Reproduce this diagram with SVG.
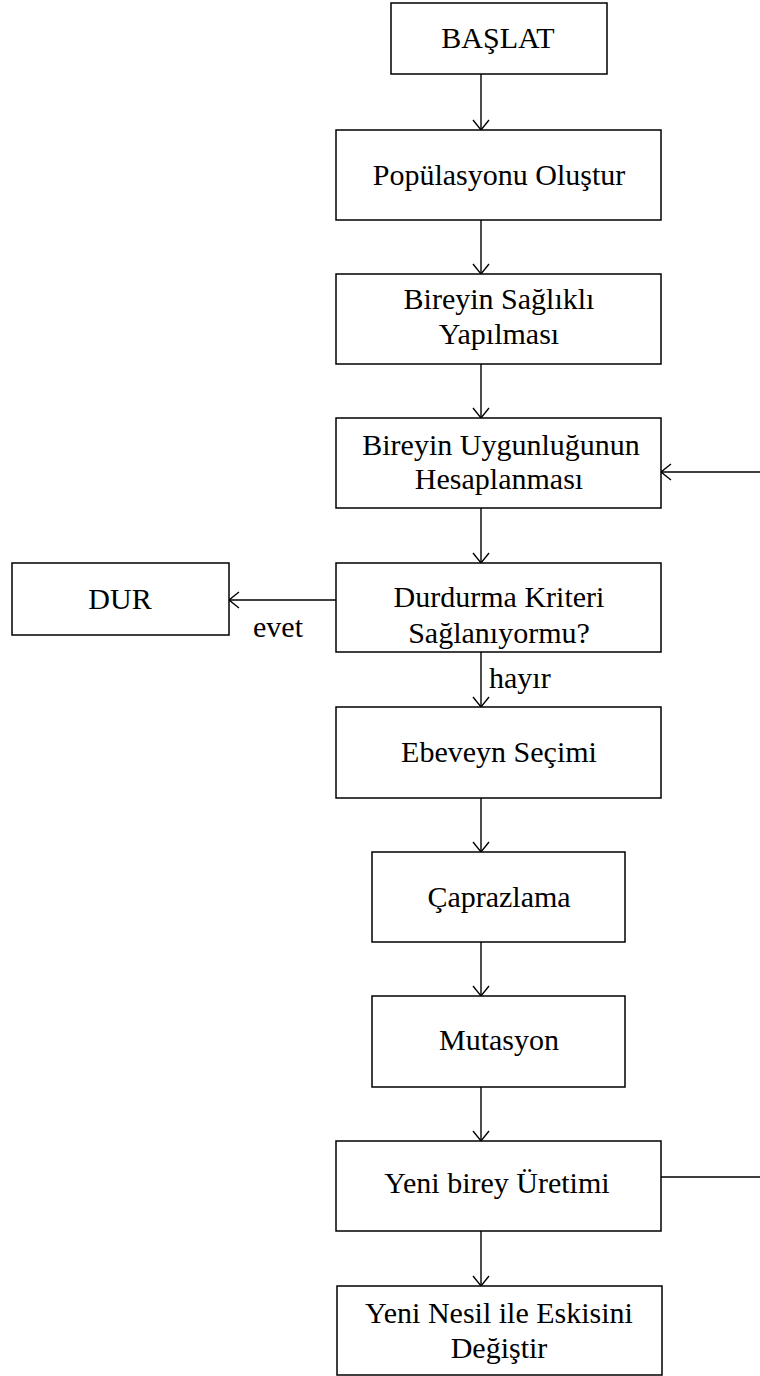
<svg xmlns="http://www.w3.org/2000/svg" width="760" height="1376" viewBox="0 0 760 1376">
<defs>
<style>
.box{fill:#fff;stroke:#000;stroke-width:1.5}
.t{font-family:"Liberation Serif","Times New Roman",serif;font-size:30px;fill:#000;text-anchor:middle}
.l{font-family:"Liberation Serif","Times New Roman",serif;font-size:30px;fill:#000}
.c{fill:none;stroke:#000;stroke-width:1.4}
</style>
<marker id="ah" markerWidth="14" markerHeight="20" refX="11" refY="9" orient="auto" markerUnits="userSpaceOnUse">
<path d="M1,1 L11,9 L1,17" fill="none" stroke="#000" stroke-width="1.4"/>
</marker>
</defs>
<rect width="760" height="1376" fill="#fff"/>
<g id="connectors">
<line class="c" x1="481" y1="74" x2="481" y2="130" marker-end="url(#ah)"/>
<line class="c" x1="481" y1="220" x2="481" y2="274" marker-end="url(#ah)"/>
<line class="c" x1="481" y1="364" x2="481" y2="418" marker-end="url(#ah)"/>
<line class="c" x1="481" y1="508" x2="481" y2="563" marker-end="url(#ah)"/>
<line class="c" x1="336" y1="600" x2="229" y2="600" marker-end="url(#ah)"/>
<line class="c" x1="481" y1="652" x2="481" y2="707" marker-end="url(#ah)"/>
<line class="c" x1="481" y1="798" x2="481" y2="852" marker-end="url(#ah)"/>
<line class="c" x1="481" y1="942" x2="481" y2="996" marker-end="url(#ah)"/>
<line class="c" x1="481" y1="1087" x2="481" y2="1141" marker-end="url(#ah)"/>
<line class="c" x1="481" y1="1231" x2="481" y2="1286" marker-end="url(#ah)"/>
<path class="c" d="M661,1177 H764 V472 H661" marker-end="url(#ah)"/>
<text class="l" x="253" y="637">evet</text>
<text class="l" x="489" y="688">hayır</text>
</g>
<g id="baslat"><rect class="box" x="391" y="3" width="216" height="71"/><text class="t" x="498" y="48">BAŞLAT</text></g>
<g id="populasyon"><rect class="box" x="336" y="130" width="325" height="90"/><text class="t" x="499" y="185">Popülasyonu Oluştur</text></g>
<g id="saglikli"><rect class="box" x="336" y="274" width="325" height="90"/><text class="t" x="499" y="309">Bireyin Sağlıklı</text><text class="t" x="499" y="344">Yapılması</text></g>
<g id="uygunluk"><rect class="box" x="336" y="418" width="325" height="90"/><text class="t" x="501" y="455">Bireyin Uygunluğunun</text><text class="t" x="499" y="489">Hesaplanması</text></g>
<g id="durdurma"><rect class="box" x="336" y="563" width="325" height="89"/><text class="t" x="499" y="607">Durdurma Kriteri</text><text class="t" x="499" y="643">Sağlanıyormu?</text></g>
<g id="dur"><rect class="box" x="12" y="563" width="217" height="72"/><text class="t" x="120" y="609">DUR</text></g>
<g id="ebeveyn"><rect class="box" x="336" y="707" width="325" height="91"/><text class="t" x="499" y="762">Ebeveyn Seçimi</text></g>
<g id="caprazlama"><rect class="box" x="372" y="852" width="253" height="90"/><text class="t" x="499" y="907">Çaprazlama</text></g>
<g id="mutasyon"><rect class="box" x="372" y="996" width="253" height="91"/><text class="t" x="499" y="1050">Mutasyon</text></g>
<g id="yenibirey"><rect class="box" x="336" y="1141" width="325" height="90"/><text class="t" x="497" y="1193">Yeni birey Üretimi</text></g>
<g id="yeninesil"><rect class="box" x="337" y="1286" width="325" height="89"/><text class="t" x="499" y="1323">Yeni Nesil ile Eskisini</text><text class="t" x="499" y="1358">Değiştir</text></g>
</svg>
